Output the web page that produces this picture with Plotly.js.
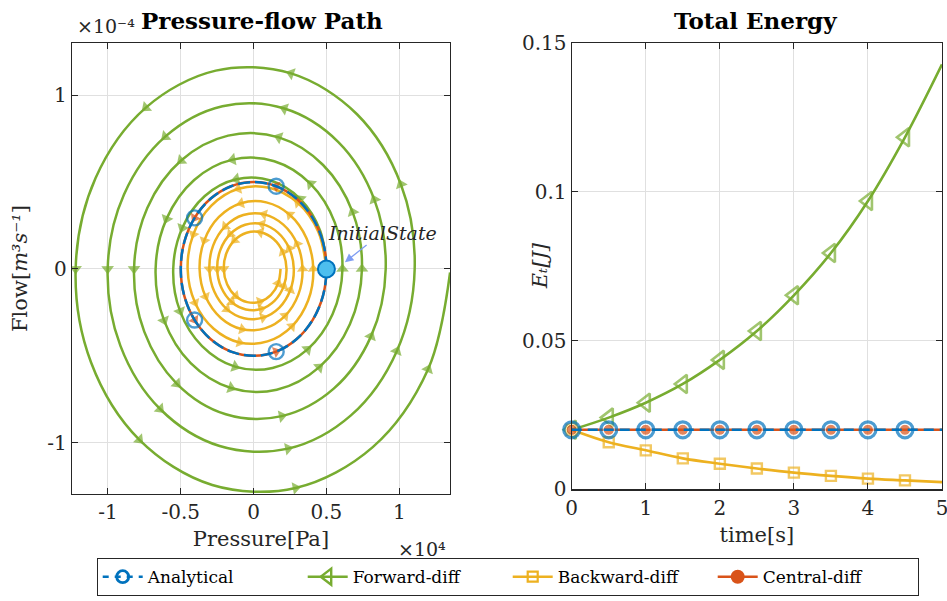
<!DOCTYPE html>
<html>
<head>
<meta charset="utf-8">
<script src="https://cdn.plot.ly/plotly-3.0.1.min.js"></script>
<style>
  html, body { margin: 0; padding: 0; background: #ffffff; }
  #chart { width: 947px; height: 601px; }
</style>
</head>
<body>
<div id="chart"></div>
<script>
// ---------------- DATA ----------------
// Left panel: pressure in units of 1e4 Pa, flow in units of 1e-4 m^3/s
const analyticalP = [0.5, 0.476, 0.405, 0.294, 0.155, 0, -0.155, -0.294, -0.405, -0.476, -0.5,
  -0.476, -0.405, -0.294, -0.155, 0, 0.155, 0.294, 0.405, 0.476, 0.5];
const analyticalQ = [0, 0.155, 0.294, 0.405, 0.476, 0.5, 0.476, 0.405, 0.294, 0.155, 0,
  -0.155, -0.294, -0.405, -0.476, -0.5, -0.476, -0.405, -0.294, -0.155, 0];
const analyticalMarkerIdx = [4, 8, 12, 16];

const centralP = [0.5, 0.476, 0.405, 0.294, 0.155, 0, -0.155, -0.294, -0.405, -0.476, -0.5,
  -0.476, -0.405, -0.294, -0.155, 0, 0.155, 0.294, 0.405, 0.476, 0.5];
const centralQ = [0, 0.155, 0.294, 0.405, 0.476, 0.5, 0.476, 0.405, 0.294, 0.155, 0,
  -0.155, -0.294, -0.405, -0.476, -0.5, -0.476, -0.405, -0.294, -0.155, 0];
const centralArrowIdx = [4, 8, 12, 16];

const forwardP = [
  0.500, 0.457, 0.321, 0.116, -0.118, -0.335, -0.490, -0.552, -0.505, -0.354, -0.128, 0.130, 0.370, 0.542,
  0.610, 0.557, 0.391, 0.142, -0.144, -0.408, -0.598, -0.673, -0.615, -0.432, -0.156, 0.159, 0.451, 0.661,
  0.744, 0.680, 0.477, 0.173, -0.175, -0.498, -0.730, -0.821, -0.751, -0.527, -0.191, 0.193, 0.550, 0.806,
  0.907, 0.829, 0.582, 0.211, -0.214, -0.607, -0.890, -1.002, -0.915, -0.642, -0.233, 0.236, 0.670, 0.983,
  1.106, 1.011, 0.710, 0.257, -0.260, -0.740, -1.085, -1.222, -1.116, -0.784, -0.284, 0.288, 0.818, 1.198,
  1.349];
const forwardQ = [
  0, 0.220, 0.402, 0.509, 0.516, 0.420, 0.236, 0, -0.243, -0.444, -0.562, -0.570, -0.463, -0.261,
  0, 0.268, 0.490, 0.620, 0.629, 0.512, 0.288, 0, -0.296, -0.542, -0.685, -0.695, -0.565, -0.318,
  0, 0.327, 0.598, 0.757, 0.767, 0.624, 0.351, 0, -0.361, -0.661, -0.836, -0.847, -0.689, -0.388,
  0, 0.399, 0.730, 0.923, 0.936, 0.761, 0.428, 0, -0.441, -0.806, -1.019, -1.034, -0.841, -0.473,
  0, 0.487, 0.890, 1.125, 1.141, 0.928, 0.523, 0, -0.538, -0.983, -1.243, -1.260, -1.025, -0.577,
  -0.02];

const backwardP = [
  0.500, 0.444, 0.303, 0.107, -0.105, -0.290, -0.414, -0.453, -0.402, -0.274, -0.097, 0.095, 0.263, 0.375,
  0.410, 0.364, 0.248, 0.087, -0.086, -0.238, -0.339, -0.371, -0.330, -0.225, -0.079, 0.078, 0.216, 0.307,
  0.336, 0.299, 0.204, 0.072, -0.071, -0.195, -0.278, -0.304, -0.270, -0.184, -0.065, 0.064, 0.177, 0.252,
  0.276, 0.245, 0.167, 0.059, -0.058, -0.160, -0.228, -0.250, -0.222, -0.151, -0.053, 0.052, 0.145, 0.207,
  0.226, 0.201, 0.137, 0.048, -0.048, -0.131, -0.187, -0.205, -0.182, -0.124, -0.044, 0.043, 0.119, 0.169,
  0.185];
const backwardQ = [
  0, 0.214, 0.380, 0.467, 0.461, 0.364, 0.199, 0, -0.194, -0.344, -0.423, -0.417, -0.330, -0.180,
  0, 0.175, 0.312, 0.383, 0.378, 0.299, 0.163, 0, -0.159, -0.282, -0.347, -0.342, -0.270, -0.148,
  0, 0.144, 0.255, 0.314, 0.310, 0.245, 0.134, 0, -0.130, -0.231, -0.284, -0.280, -0.222, -0.121,
  0, 0.118, 0.209, 0.258, 0.254, 0.201, 0.110, 0, -0.107, -0.190, -0.233, -0.230, -0.182, -0.099,
  0, 0.097, 0.172, 0.211, 0.208, 0.165, 0.090, 0, -0.088, -0.156, -0.191, -0.189, -0.149, -0.082,
  0];

// positions (sample index) of the direction arrows along the two spirals
const spiralArrowIdx = [2, 4, 6, 8, 10, 12, 14, 16, 18, 20, 22, 24, 26, 28, 29, 31, 33, 35, 37,
  39, 41, 43, 45, 47, 49, 51, 53, 55, 57, 59, 61, 63, 65, 67, 69];

// Right panel: total energy
const time = [0, 0.5, 1, 1.5, 2, 2.5, 3, 3.5, 4, 4.5, 5];
const energyAnalytical = [0.02, 0.02, 0.02, 0.02, 0.02, 0.02, 0.02, 0.02, 0.02, 0.02, 0.02];
const energyForward = [0.02, 0.0241, 0.0291, 0.0354, 0.0435, 0.0532, 0.0652, 0.0794, 0.0969, 0.1183, 0.1428];
const energyBackward = [0.02, 0.0158, 0.0131, 0.0104, 0.0086, 0.0070, 0.0056, 0.0045, 0.0036, 0.0030, 0.0024];
const energyCentral = [0.02, 0.02, 0.02, 0.02, 0.02, 0.02, 0.02, 0.02, 0.02, 0.02, 0.02];

// tick labels
const pressureTicks = [-1, -0.5, 0, 0.5, 1];
const pressureTickText = ['-1', '-0.5', '0', '0.5', '1'];
const flowTicks = [-1, 0, 1];
const flowTickText = ['-1', '0', '1'];
const timeTicks = [0, 1, 2, 3, 4, 5];
const timeTickText = ['0', '1', '2', '3', '4', '5'];
const energyTicks = [0, 0.05, 0.1, 0.15];
const energyTickText = ['0', '0.05', '0.1', '0.15'];

// ---------------- STYLE ----------------
const BLUE = '#0072BD', GREEN = '#77AC30', YELLOW = '#EDB120', RED = '#D95319', LIGHTBLUE = '#4DBEEE';
const INK = '#262626';
const FONT = 'DejaVu Serif';

function sizesAt(n, idx, s) {
  return Array.from({ length: n }, (_, i) => (idx.includes(i) ? s : 0));
}
function markersExceptLast(n, s) {
  return Array.from({ length: n }, (_, i) => (i < n - 1 ? s : 0));
}

const traces = [];

// ---- left panel ----
traces.push({
  x: forwardP, y: forwardQ, xaxis: 'x', yaxis: 'y', type: 'scatter', mode: 'lines+markers',
  showlegend: false, hoverinfo: 'skip',
  line: { color: GREEN, width: 2.5, shape: 'spline', backoff: 0 },
  marker: { symbol: 'triangle-up', size: sizesAt(forwardP.length, spiralArrowIdx, 11), color: GREEN,
            angleref: 'previous', angle: -12.9, line: { width: 0 } }
});
traces.push({
  x: backwardP, y: backwardQ, xaxis: 'x', yaxis: 'y', type: 'scatter', mode: 'lines+markers',
  showlegend: false, hoverinfo: 'skip',
  line: { color: YELLOW, width: 2.5, shape: 'spline', backoff: 0 },
  marker: { symbol: 'triangle-up', size: sizesAt(backwardP.length, spiralArrowIdx, 10), color: YELLOW,
            angleref: 'previous', angle: -12.9, line: { width: 0 } }
});
traces.push({
  x: centralP, y: centralQ, xaxis: 'x', yaxis: 'y', type: 'scatter', mode: 'lines+markers',
  showlegend: false, hoverinfo: 'skip',
  line: { color: RED, width: 2.5, shape: 'spline', backoff: 0 },
  marker: { symbol: 'triangle-up', size: sizesAt(centralP.length, centralArrowIdx, 10), color: RED,
            angleref: 'previous', angle: -9, line: { width: 0 } }
});
traces.push({
  x: analyticalP, y: analyticalQ, xaxis: 'x', yaxis: 'y', type: 'scatter', mode: 'lines+markers',
  showlegend: false, hoverinfo: 'skip',
  line: { color: BLUE, width: 2.5, shape: 'spline', dash: '12px,5px', backoff: 0 },
  marker: { symbol: 'circle-open', size: sizesAt(analyticalP.length, analyticalMarkerIdx, 15),
            color: BLUE, line: { width: 2.4 } }
});
// initial state
traces.push({
  x: [analyticalP[0]], y: [analyticalQ[0]], xaxis: 'x', yaxis: 'y', type: 'scatter', mode: 'markers',
  showlegend: false, hoverinfo: 'skip',
  marker: { symbol: 'circle', size: 17, color: LIGHTBLUE, line: { color: BLUE, width: 2 } }
});

// ---- right panel ----
traces.push({
  x: time, y: energyForward, xaxis: 'x2', yaxis: 'y2', type: 'scatter', mode: 'lines+markers',
  showlegend: false, hoverinfo: 'skip', cliponaxis: false,
  line: { color: GREEN, width: 2.6, shape: 'spline' },
  marker: { symbol: 'triangle-left-open', size: markersExceptLast(time.length, 16), color: GREEN, line: { width: 2.6 } }
});
traces.push({
  x: time, y: energyBackward, xaxis: 'x2', yaxis: 'y2', type: 'scatter', mode: 'lines+markers',
  showlegend: false, hoverinfo: 'skip', cliponaxis: false,
  line: { color: YELLOW, width: 2.6, shape: 'spline' },
  marker: { symbol: 'square-open', size: markersExceptLast(time.length, 10), color: YELLOW, line: { width: 2.4 } }
});
traces.push({
  x: time, y: energyCentral, xaxis: 'x2', yaxis: 'y2', type: 'scatter', mode: 'lines+markers',
  showlegend: false, hoverinfo: 'skip', cliponaxis: false,
  line: { color: RED, width: 2.6 },
  marker: { symbol: 'circle', size: markersExceptLast(time.length, 11), color: RED }
});
traces.push({
  x: time, y: energyAnalytical, xaxis: 'x2', yaxis: 'y2', type: 'scatter', mode: 'lines+markers',
  showlegend: false, hoverinfo: 'skip', cliponaxis: false,
  line: { color: BLUE, width: 2.6, dash: '10px,6px' },
  marker: { symbol: 'circle-open', size: markersExceptLast(time.length, 16), color: BLUE, line: { width: 3.2 } }
});

// ---- legend entries ----
traces.push({ x: [null], y: [null], xaxis: 'x', yaxis: 'y', type: 'scatter', mode: 'lines+markers', name: 'Analytical',
  line: { color: BLUE, width: 2.6, dash: '6px,6px' }, marker: { symbol: 'circle-open', size: 12, color: BLUE, line: { width: 2.8 } } });
traces.push({ x: [null], y: [null], xaxis: 'x', yaxis: 'y', type: 'scatter', mode: 'lines+markers', name: 'Forward-diff',
  line: { color: GREEN, width: 2.6 }, marker: { symbol: 'triangle-left-open', size: 14, color: GREEN, line: { width: 2.4 } } });
traces.push({ x: [null], y: [null], xaxis: 'x', yaxis: 'y', type: 'scatter', mode: 'lines+markers', name: 'Backward-diff',
  line: { color: YELLOW, width: 2.6 }, marker: { symbol: 'square-open', size: 10, color: YELLOW, line: { width: 2.2 } } });
traces.push({ x: [null], y: [null], xaxis: 'x', yaxis: 'y', type: 'scatter', mode: 'lines+markers', name: 'Central-diff',
  line: { color: RED, width: 2.6 }, marker: { symbol: 'circle', size: 14, color: RED } });

// ---------------- LAYOUT ----------------
const axisCommon = {
  showgrid: true, gridcolor: '#e0e0e0', gridwidth: 1, zeroline: false,
  showline: true, linecolor: INK, linewidth: 1.2, mirror: 'ticks',
  ticks: 'inside', ticklen: 6, tickwidth: 1, tickcolor: INK, ticklabeloverflow: 'allow',
  tickfont: { family: FONT, size: 20, color: INK }, automargin: false
};
const titleFont = { family: FONT, size: 21, color: INK };

const layout = {
  width: 947, height: 601,
  paper_bgcolor: '#ffffff', plot_bgcolor: '#ffffff',
  margin: { l: 72.3, r: 5.3, t: 42.7, b: 105.3, pad: 0 },
  font: { family: FONT, color: INK },
  showlegend: true,
  xaxis: Object.assign({}, axisCommon, {
    domain: [0, 0.4344], range: [-1.247, 1.348], anchor: 'y',
    tickmode: 'array', tickvals: pressureTicks, ticktext: pressureTickText,
    title: { text: 'Pressure[Pa]', font: titleFont, standoff: 8 }
  }),
  yaxis: Object.assign({}, axisCommon, {
    domain: [0, 1], range: [-1.295, 1.3], anchor: 'x',
    tickmode: 'array', tickvals: flowTicks, ticktext: flowTickText,
    title: { text: 'Flow[<i>m³s⁻¹</i>]', font: titleFont, standoff: 14 }
  }),
  xaxis2: Object.assign({}, axisCommon, {
    domain: [0.5744, 1], range: [0, 5], anchor: 'y2',
    tickmode: 'array', tickvals: timeTicks, ticktext: timeTickText,
    title: { text: 'time[s]', font: titleFont, standoff: 8 }
  }),
  yaxis2: Object.assign({}, axisCommon, {
    domain: [0.0104, 1], range: [0, 0.15], anchor: 'x2',
    tickmode: 'array', tickvals: energyTicks, ticktext: energyTickText
  }),
  legend: {
    orientation: 'h', x: 0.0284, y: -0.2265, xanchor: 'left', yanchor: 'bottom',
    bgcolor: '#ffffff', bordercolor: INK, borderwidth: 1,
    font: { family: FONT, size: 17, color: '#000000' },
    entrywidth: 150, entrywidthmode: 'pixels', itemwidth: 40, traceorder: 'normal'
  },
  annotations: [
    { text: '<b>Pressure-flow Path</b>', xref: 'paper', yref: 'paper', x: 0.2179, y: 1.05,
      xanchor: 'center', yanchor: 'middle', showarrow: false, font: { family: FONT, size: 23, color: '#000' } },
    { text: '<b>Total Energy</b>', xref: 'paper', yref: 'paper', x: 0.7853, y: 1.05,
      xanchor: 'center', yanchor: 'middle', showarrow: false, font: { family: FONT, size: 23, color: '#000' } },
    { text: '<i>Eₜ[J]</i>', xref: 'paper', yref: 'paper', x: 0.538, y: 0.505, textangle: -90,
      xanchor: 'center', yanchor: 'middle', showarrow: false, font: titleFont },
    { text: '×10⁻⁴', xref: 'paper', yref: 'paper', x: 0.003, y: 1.037,
      xanchor: 'left', yanchor: 'middle', showarrow: false, font: { family: FONT, size: 19, color: INK } },
    { text: '×10⁴', xref: 'paper', yref: 'paper', x: 0.4321, y: -0.122,
      xanchor: 'right', yanchor: 'middle', showarrow: false, font: { family: FONT, size: 19, color: INK } },
    { text: '<i>InitialState</i>', xref: 'x', yref: 'y', x: 0.627, y: 0.039,
      axref: 'x', ayref: 'y', ax: 0.885, ay: 0.209,
      showarrow: true, arrowhead: 2, arrowsize: 1.3, arrowwidth: 1.3, arrowcolor: '#7F9DF2',
      font: { family: FONT, size: 19, color: INK } }
  ]
};

Plotly.newPlot('chart', traces, layout, { displayModeBar: false, responsive: false, staticPlot: true });
</script>
</body>
</html>
